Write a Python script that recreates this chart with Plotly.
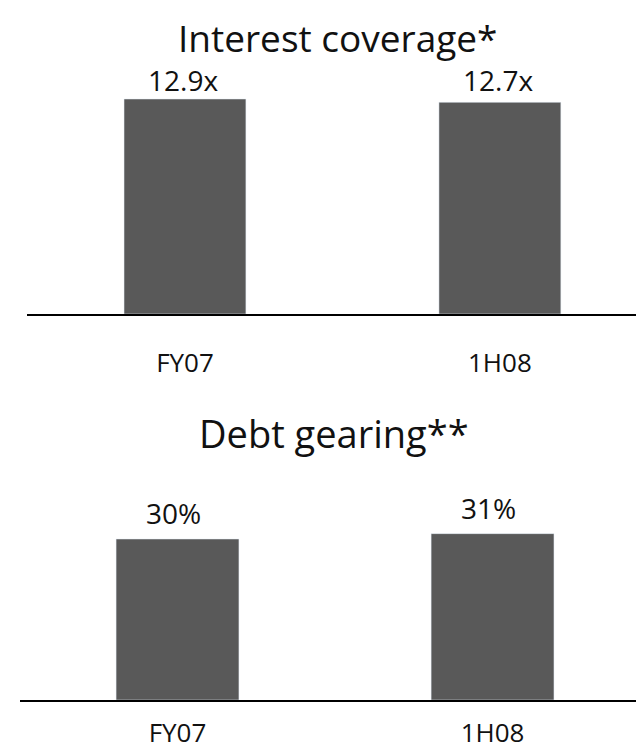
import plotly.graph_objects as go

categories = ["FY07", "1H08"]
coverage_values = [12.9, 12.7]
coverage_labels = ["12.9x", "12.7x"]
gearing_values = [30, 31]
gearing_labels = ["30%", "31%"]
top_title = "Interest coverage*"
bottom_title = "Debt gearing**"

FONT = "Open Sans, Liberation Sans, Arial, sans-serif"
BAR = "#595959"
W, H = 644, 754

def py(px):
    return (H - px) / H

fig = go.Figure()
fig.add_trace(go.Bar(x=categories, y=coverage_values, marker_color=BAR, width=0.387,
                     xaxis="x", yaxis="y", hoverinfo="skip", cliponaxis=False))
fig.add_trace(go.Bar(x=categories, y=gearing_values, marker_color=BAR, width=0.39,
                     xaxis="x2", yaxis="y2", hoverinfo="skip", cliponaxis=False))

for c, v, t in zip(categories, coverage_values, coverage_labels):
    fig.add_annotation(x=c, y=max(coverage_values), xref="x", yref="y", text=t, showarrow=False,
                       yanchor="bottom", yshift=-2, xshift=-2,
                       font=dict(family=FONT, size=28, color="#111"))
for c, v, t in zip(categories, gearing_values, gearing_labels):
    fig.add_annotation(x=c, y=v, xref="x2", yref="y2", text=t, showarrow=False,
                       yanchor="bottom", yshift=5, xshift=-4,
                       font=dict(family=FONT, size=28, color="#111"))

fig.add_annotation(x=330 / W, y=py(2), xref="paper", yref="paper", text=top_title,
                   showarrow=False, yanchor="top", xanchor="center",
                   font=dict(family=FONT, size=37, color="#111"))
fig.add_annotation(x=326 / W, y=py(397), xref="paper", yref="paper", text=bottom_title,
                   showarrow=False, yanchor="top", xanchor="center",
                   font=dict(family=FONT, size=38, color="#111"))

axis_common = dict(showgrid=False, zeroline=False, fixedrange=True)
fig.update_layout(
    width=W, height=H,
    margin=dict(l=0, r=0, t=0, b=0),
    paper_bgcolor="white", plot_bgcolor="white",
    showlegend=False,
    font=dict(family=FONT, color="#111"),
    xaxis=dict(domain=[19 / W, 1], range=[-0.5016, 1.483], anchor="y",
               showline=True, linecolor="black", linewidth=2,
               ticks="", ticklabelstandoff=25,
               tickfont=dict(family=FONT, size=26, color="#111"), **axis_common),
    yaxis=dict(domain=[py(306), py(60)], range=[0, 12.9 * (306 - 60) / 215], anchor="x",
               visible=False, **axis_common),
    xaxis2=dict(domain=[12 / W, 643 / W], range=[-0.5, 1.503], anchor="y2",
                showline=True, linecolor="black", linewidth=1.5,
                ticks="", ticklabelstandoff=9,
                tickfont=dict(family=FONT, size=26, color="#111"), **axis_common),
    yaxis2=dict(domain=[py(692), py(470)], range=[0, 30 * (692 - 470) / 161], anchor="x2",
                visible=False, **axis_common),
)

fig.write_html("out.html")
